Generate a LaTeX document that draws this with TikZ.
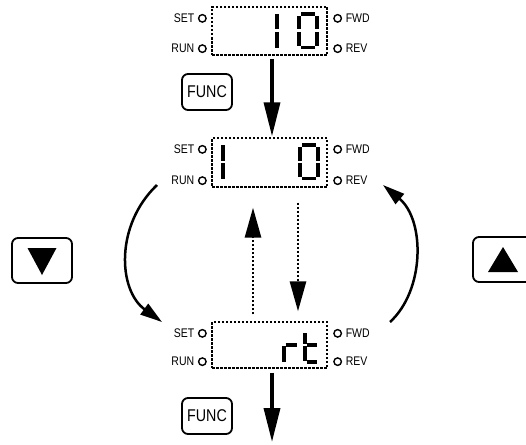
\documentclass[tikz,border=0pt]{standalone}
\usepackage{fontspec}
\setmainfont{Liberation Sans}
\newfontfamily\keyfont[FakeStretch=0.84]{Liberation Sans}
\usetikzlibrary{arrows.meta,calc}

\begin{document}
\begin{tikzpicture}[x=1pt,y=-1pt,
 disp/.style={draw,line width=1.3pt,dash pattern=on 2.5pt off 1.5pt,minimum width=115pt,minimum height=48pt,inner sep=0pt},
 lamp/.style={circle,draw,line width=1.4pt,minimum size=7.5pt,inner sep=0pt},
 lbl/.style={font=\keyfont\fontsize{12.5}{12.5}\selectfont,inner sep=0pt},
 seg/.style={line width=3.2pt},
 btn/.style={draw,rounded corners=6pt,line width=1.8pt,inner sep=0pt},
 flow/.style={-{Triangle[length=34pt,width=16pt]},line width=3.5pt},
 dflow/.style={-{Triangle[length=30pt,width=16pt]},line width=2.8pt,dash pattern=on 2.5pt off 1.5pt},
 turn/.style={-{Triangle[length=22pt,width=13pt]},line width=2.5pt}]
\useasboundingbox (0,0) rectangle (526,444);

% displays
\node[disp] (d1) at (269.5,31) {};
\node[disp,minimum height=49pt] (d2) at (269.5,162.5) {};
\node[disp,minimum height=46pt] (d3) at (269.5,345) {};

% lamps and their labels
\foreach \d in {d1,d2,d3}{
 \node[lamp] (\d-set) at ($(\d.north west)+(-9,12)$) {};
 \node[lamp] (\d-run) at ($(\d.south west)+(-9,-7)$) {};
 \node[lamp] (\d-fwd) at ($(\d.north east)+(10,12)$) {};
 \node[lamp] (\d-rev) at ($(\d.south east)+(10,-7)$) {};
 \node[lbl,anchor=east] (\d-setl) at ([xshift=-3.5pt]\d-set.west) {SET};
 \node[lbl,anchor=east] (\d-runl) at ([xshift=-3.5pt]\d-run.west) {RUN};
 \node[lbl,anchor=west] (\d-fwdl) at ([xshift=3.5pt]\d-fwd.east) {FWD};
 \node[lbl,anchor=west] (\d-revl) at ([xshift=3.5pt]\d-rev.east) {REV};
}

% segment digits
\draw[seg] (277,14)--(277,29.5) (277,32)--(277,47.5);
\draw[seg] (299,16)--(299,29.5) (299,32)--(299,45.5) (317,16)--(317,29.5) (317,32)--(317,45.5)
 (301,14)--(315,14) (301,47.5)--(315,47.5);
\draw[seg] (223,145)--(223,160.5) (223,163)--(223,178.5);
\draw[seg] (300,147)--(300,160.5) (300,163)--(300,176.5) (318,147)--(318,160.5) (318,163)--(318,176.5)
 (302,145)--(316,145) (302,178.5)--(316,178.5);
\draw[seg] (284,362)--(284,346) (285.5,345)--(297,345);
\draw[seg] (305,333)--(305,344) (305,346)--(305,361) (306.5,345)--(317,345) (306.5,362)--(317,362);

% keys
\node[btn,minimum width=50pt,minimum height=36pt,font=\keyfont\fontsize{17}{17}\selectfont] (func1) at (207,92) {FUNC};
\node[btn,minimum width=50pt,minimum height=36pt,font=\keyfont\fontsize{17}{17}\selectfont] (func2) at (207,416) {FUNC};
\node[btn,minimum width=60pt,minimum height=45pt] (dnkey) at (42,260.5) {};
\node[btn,minimum width=60pt,minimum height=45pt] (upkey) at (503,259.5) {};
\fill ($(dnkey)+(-14.5,-12.5)$) -- ($(dnkey)+(14.5,-12.5)$) -- ($(dnkey)+(0,14.5)$) -- cycle;
\fill ($(upkey)+(-15,12.5)$) -- ($(upkey)+(15,12.5)$) -- ($(upkey)+(0,-12.5)$) -- cycle;

% flow
\coordinate (out) at (272,442);
\draw[flow] ([xshift=2.5pt,yshift=-3pt]d1.south) -- ([xshift=2.5pt,yshift=1pt]d2.north);
\draw[flow] ([xshift=2.5pt,yshift=-4pt]d3.south) -- (out);
\draw[dflow] ([xshift=-16.5pt,yshift=7pt]d3.north) -- ([xshift=-16.5pt,yshift=-20pt]d2.south);
\draw[dflow] ([xshift=28.5pt,yshift=-15pt]d2.south) -- ([xshift=28.5pt,yshift=10pt]d3.north);

\coordinate (lt) at (157,185);
\coordinate (lb) at (162,322);
\coordinate (rb) at (390,322);
\coordinate (rt) at (383,185);
\draw[turn] (lt) .. controls (115,225) and (118,290) .. (lb);
\draw[turn] (rb) .. controls (425,290) and (425,220) .. (rt);
\end{tikzpicture}
\end{document}
